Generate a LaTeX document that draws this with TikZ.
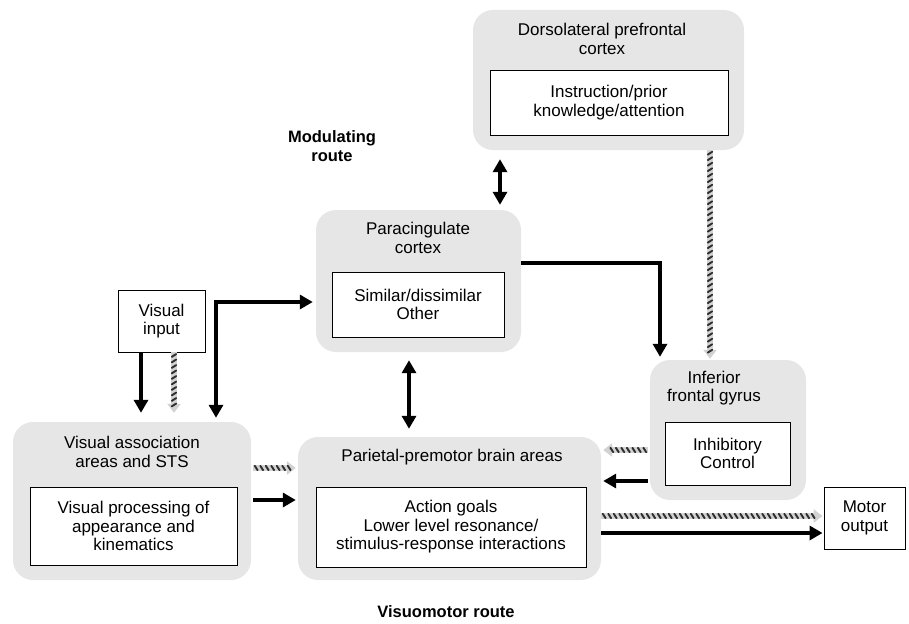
\documentclass[tikz,border=0pt]{standalone}
\usepackage{fontspec}
\setmainfont{Liberation Sans}
\usetikzlibrary{arrows.meta,decorations.markings,calc}
\definecolor{panel}{HTML}{E6E6E6}
\definecolor{stripebg}{HTML}{D2D2D2}
\definecolor{stripefg}{HTML}{2E2E2E}
\begin{document}
\begin{tikzpicture}[x=1pt,y=-1pt,
  outer/.style={fill=panel,rounded corners=20pt,inner sep=0pt},
  inner/.style={draw=black,line width=0.9pt,fill=white,inner sep=0pt,align=center,font=\fontsize{17}{18.5}\selectfont},
  title/.style={align=center,font=\fontsize{17}{18.5}\selectfont,inner sep=0pt},
  boldlab/.style={align=center,font=\bfseries\fontsize{16.5}{18.5}\selectfont,inner sep=0pt},
  blk/.style={line width=3.8pt,-{Triangle[width=14pt,length=13pt]}},
  dbl/.style={line width=3.8pt,{Triangle[width=14pt,length=13pt]}-{Triangle[width=14pt,length=13pt]}},
  striped/.style={line width=6pt,draw=stripebg,-{Triangle[width=13pt,length=9pt]},
     postaction={decorate,decoration={markings,
       mark=between positions 3pt and -4pt step 5.5pt with {\draw[-,stripefg,line width=1.9pt,line cap=round] (-1.4pt,2.2pt) -- (1.4pt,-2.2pt);}}}},
]
\useasboundingbox (0,0) rectangle (909,623);

% helper coordinates
\coordinate (x141) at (141,0);
\coordinate (x174) at (174,0);
\coordinate (x216) at (216,0);
\coordinate (x409) at (409,0);
\coordinate (x500) at (500,0);
\coordinate (x660) at (660,0);
\coordinate (x710) at (710,0);
\coordinate (y263) at (0,263);
\coordinate (y302) at (0,302);
\coordinate (y450) at (0,450);
\coordinate (y468) at (0,468);
\coordinate (y481) at (0,481);
\coordinate (y500) at (0,500);
\coordinate (y516) at (0,516);
\coordinate (y533) at (0,533);

% Dorsolateral prefrontal cortex
\node[outer,minimum width=271pt,minimum height=140pt] (dl) at (608.5,80) {};
\node[title] (dlt) at (602,39) {Dorsolateral prefrontal\\cortex};
\node[inner,minimum width=238pt,minimum height=65pt] (dli) at (609,102.5) {Instruction/prior\\knowledge/attention};

% Modulating route
\node[boldlab] (mod) at (332,146) {Modulating\\route};

% Paracingulate cortex
\node[outer,minimum width=205pt,minimum height=142pt] (pc) at (418.5,281) {};
\node[title] (pct) at (418,238) {Paracingulate\\cortex};
\node[inner,minimum width=172pt,minimum height=65pt] (pci) at (418,304.5) {Similar/dissimilar\\Other};

% Visual input
\node[inner,minimum width=87pt,minimum height=62pt] (vi) at (161.5,321) {Visual\\input};

% Inferior frontal gyrus
\node[outer,minimum width=156pt,minimum height=140pt] (ifg) at (728,430) {};
\node[title] (ifgt) at (714,388) {Inferior\\frontal gyrus};
\node[inner,minimum width=125pt,minimum height=63pt] (ifgi) at (727.5,453.5) {Inhibitory\\Control};

% Visual association areas
\node[outer,minimum width=238pt,minimum height=158pt] (va) at (132,501) {};
\node[title] (vat) at (132,452) {Visual association\\areas and STS};
\node[inner,minimum width=207pt,minimum height=78pt] (vai) at (133.5,526) {Visual processing of\\appearance and\\kinematics};

% Parietal-premotor
\node[outer,minimum width=303pt,minimum height=143pt] (pp) at (449.5,508.5) {};
\node[title] (ppt) at (452,457) {Parietal-premotor brain areas};
\node[inner,minimum width=270pt,minimum height=80pt] (ppi) at (451,527) {Action goals\\Lower level resonance/\\stimulus-response interactions};

% Motor output
\node[inner,minimum width=81pt,minimum height=62pt] (mo) at (864.5,518) {Motor\\output};

% Visuomotor route
\node[boldlab] (vm) at (446,612) {Visuomotor route};

% Connectors
\draw[dbl,shorten <=9pt,shorten >=5pt] (dl.south -| x500) -- (pc.north -| x500);
\draw[dbl,shorten <=8pt,shorten >=8pt] (pc.south -| x409) -- (pp.north -| x409);
\draw[blk,shorten >=3pt] (pc.east |- y263) -| (ifg.north -| x660);
\draw[striped] (dl.south -| x710) -- ($(ifg.north -| x710)+(0,-1)$);
\draw[blk,shorten >=9pt] (vi.south -| x141) -- (va.north -| x141);
\draw[striped] (vi.south -| x174) -- ($(va.north -| x174)+(0,-9)$);
\draw[dbl,shorten <=4pt,shorten >=3pt] (va.north -| x216) |- (pc.west |- y302);
\draw[striped] ($(va.east |- y468)+(2,0)$) -- ($(pp.west |- y468)+(-2,0)$);
\draw[blk,shorten <=2pt,shorten >=2pt] (va.east |- y500) -- (pp.west |- y500);
\draw[striped] ($(ifg.west |- y450)+(-2,0)$) -- ($(pp.east |- y450)+(2,0)$);
\draw[blk,shorten <=2pt,shorten >=2pt] (ifg.west |- y481) -- (pp.east |- y481);
\draw[striped] (pp.east |- y516) -- ($(mo.west |- y516)+(-1,0)$);
\draw[blk,shorten >=1pt] (pp.east |- y533) -- (mo.west |- y533);
\end{tikzpicture}
\end{document}
